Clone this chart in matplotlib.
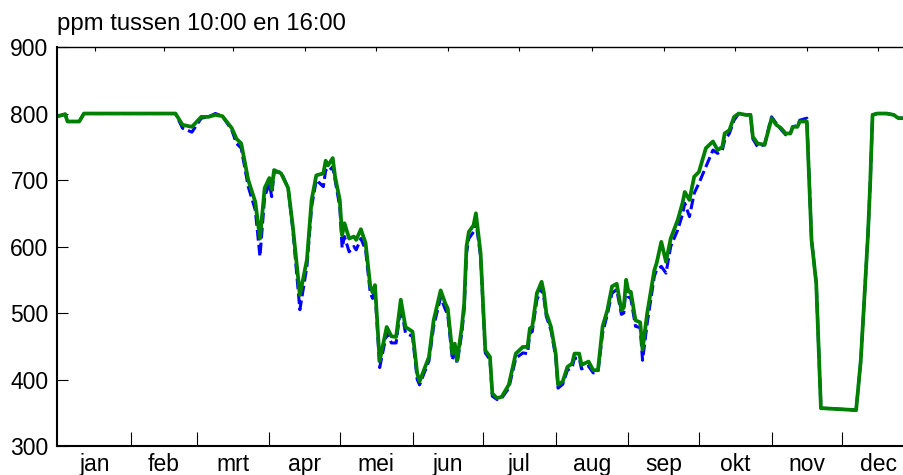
import matplotlib
matplotlib.use('Agg')
import matplotlib.pyplot as plt

plt.rcParams['font.family'] = ['Liberation Sans', 'DejaVu Sans']

# dag van het jaar (0 = 1 jan)
days = [0, 3, 4, 9, 11, 50, 53, 57, 61, 64,
        67, 70, 74, 76, 78, 81, 84, 86, 88, 90,
        91, 92, 95, 98, 100, 103, 106, 108, 110, 113,
        114, 115, 117, 118, 120, 121, 122, 124, 126, 127,
        129, 131, 133, 134, 135, 137, 140, 142, 144, 146,
        148, 151, 153, 154, 158, 160, 163, 165, 166, 168,
        169, 170, 172, 173, 174, 175, 177, 178, 180, 182,
        184, 185, 187, 189, 192, 195, 198, 200, 201, 202,
        204, 206, 207, 208, 210, 212, 213, 215, 217, 219,
        220, 222, 223, 226, 228, 230, 232, 234, 236, 238,
        240, 241, 242, 243, 244, 246, 248, 249, 251, 254,
        255, 257, 259, 261, 264, 266, 267, 269, 271, 273,
        276, 279, 281, 283, 284, 286, 288, 290, 293, 295,
        296, 298, 301, 303, 304, 306, 308, 310, 312, 313,
        315, 316, 319, 321, 323, 325, 340, 342, 345, 346,
        347, 349, 353, 356, 358, 361]

ppm_green = [796, 799, 788, 788, 800, 800, 783, 780, 795, 795,
             798, 796, 778, 762, 755, 700, 667, 612, 688, 703,
             686, 715, 710, 688, 630, 527, 580, 670, 707, 710,
             729, 722, 733, 705, 670, 617, 635, 612, 615, 610,
             626, 605, 540, 531, 542, 428, 479, 465, 464, 520,
             479, 472, 409, 397, 434, 489, 534, 514, 507, 439,
             454, 429, 479, 514, 600, 622, 632, 650, 590, 444,
             434, 379, 372, 374, 392, 439, 449, 449, 477, 479,
             530, 547, 530, 500, 479, 439, 392, 397, 419, 424,
             439, 439, 422, 427, 414, 414, 480, 504, 540, 544,
             504, 508, 550, 532, 532, 489, 486, 445, 500, 564,
             575, 607, 577, 612, 640, 665, 682, 670, 705, 712,
             748, 758, 745, 750, 770, 775, 795, 800, 798, 798,
             765, 755, 753, 780, 793, 783, 778, 770, 770, 780,
             780, 788, 788, 610, 545, 357, 354, 429, 615, 695,
             798, 800, 800, 798, 793, 793]

ppm_blue = [796, 799, 788, 788, 800, 800, 778, 772, 793, 795,
            800, 796, 775, 755, 748, 690, 655, 585, 675, 695,
            675, 712, 712, 688, 625, 505, 570, 660, 700, 690,
            715, 712, 720, 700, 660, 598, 615, 592, 600, 595,
            612, 595, 530, 522, 535, 418, 470, 455, 455, 510,
            470, 465, 400, 392, 428, 480, 524, 505, 498, 429,
            447, 424, 470, 505, 590, 612, 622, 638, 585, 440,
            430, 375, 370, 372, 387, 432, 440, 439, 470, 472,
            520, 538, 522, 495, 474, 434, 387, 393, 414, 418,
            432, 432, 416, 420, 410, 411, 470, 498, 530, 535,
            498, 500, 540, 524, 522, 480, 478, 429, 485, 555,
            565, 570, 560, 600, 625, 648, 665, 645, 680, 695,
            720, 745, 740, 745, 760, 770, 790, 800, 798, 798,
            762, 750, 753, 782, 795, 785, 776, 768, 770, 780,
            782, 790, 793, 610, 545, 357, 354, 429, 615, 695,
            798, 800, 800, 798, 793, 793]

maanden = ['jan', 'feb', 'mrt', 'apr', 'mei', 'jun',
           'jul', 'aug', 'sep', 'okt', 'nov', 'dec']
maand_grenzen = [31, 59, 90, 120, 151, 181, 212, 243, 273, 304, 334]
maand_midden = [15.5, 45, 74.5, 105, 135.5, 166, 196.5, 227.5, 258, 288.5, 319, 349.5]

fig = plt.figure(figsize=(9.04, 4.75), dpi=100)
ax = fig.add_axes([0.063, 0.061, 0.937, 0.84])

line_b, = ax.plot(days, ppm_blue, color='#0000ff', lw=2.2, ls='--')
line_b.set_dashes([3.5, 1.4])
ax.plot(days, ppm_green, color='#008000', lw=2.7)

ax.set_xlim(-0.5, 360.4)
ax.set_ylim(300, 900)

ax.set_yticks(range(300, 901, 100))
ax.tick_params(axis='y', direction='in', length=7.7, width=0.8,
               labelsize=16.5, pad=6, right=False)

ax.set_xticks(maand_grenzen)
ax.set_xticklabels([])
ax.set_xticks(maand_midden, minor=True)
ax.set_xticklabels(maanden, minor=True)
ax.tick_params(axis='x', which='major', direction='in', length=10,
               width=0.8, bottom=True, top=False)
ax.tick_params(axis='x', which='minor', direction='in', length=3,
               width=0.8, bottom=False, top=True, labelbottom=True,
               labelsize=16.5, pad=5)

ax.spines['right'].set_visible(False)
ax.spines['left'].set_linewidth(1.5)
ax.spines['bottom'].set_linewidth(1.5)
ax.spines['top'].set_linewidth(1.0)

fig.text(0.063, 0.95, 'ppm tussen 10:00 en 16:00', fontsize=17.2,
         ha='left', va='center')

fig.savefig('out.png', dpi=100)
